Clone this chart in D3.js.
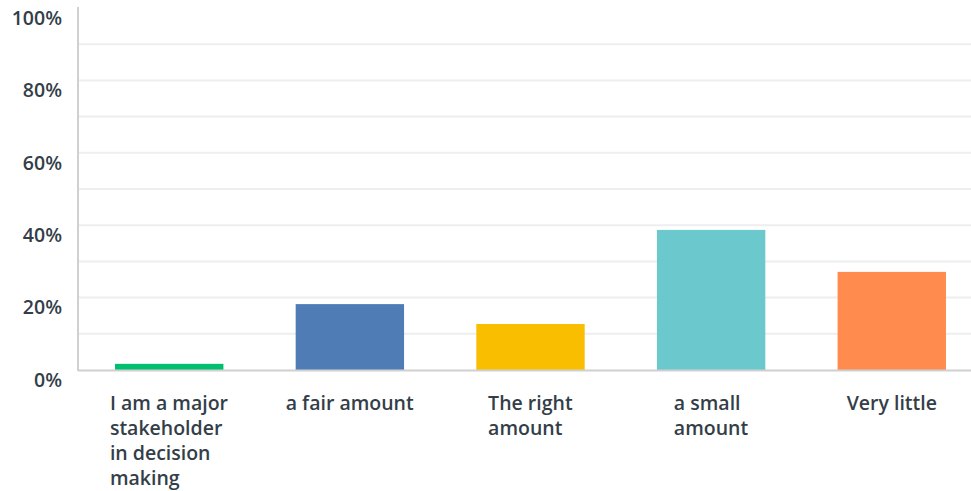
<!DOCTYPE html>
<html><head><meta charset="utf-8">
<script src="https://cdn.jsdelivr.net/npm/d3@7"></script>
<style>body{margin:0;background:#fff;} svg{display:block;}</style>
</head><body>
<svg id="chart" width="971" height="491"></svg>
<script>
const categories = ["I am a major stakeholder in decision making", "a fair amount", "The right amount", "a small amount", "Very little"];
const labelLines = [["I am a major","stakeholder","in decision","making"],["a fair amount"],["The right","amount"],["a small","amount"],["Very little"]];
const values = [1.7, 18.2, 12.7, 38.7, 27.1];
const colors = ["#00bf6f", "#507cb6", "#f9be00", "#6bc8cd", "#ff8b4f"];
const yTicks = [0, 20, 40, 60, 80, 100];
const gridTicks = [10, 20, 30, 40, 50, 60, 70, 80, 90];

(function () {
const svg = d3.select("#chart");
const mLeft = 78, mRight = 971, mTop = 8, mBottom = 370;
const font = "'Open Sans', sans-serif";
const textColor = "#333e48";

const x = d3.scaleBand().domain(categories).range([mLeft, 983]).paddingInner(0.4).paddingOuter(0.205);
const y = d3.scaleLinear().domain([0, 100]).range([mBottom, mTop]);

svg.append("g").selectAll("line").data(gridTicks).join("line")
  .attr("x1", mLeft).attr("x2", mRight)
  .attr("y1", d => y(d)).attr("y2", d => y(d))
  .attr("stroke", "#eeeeee").attr("stroke-width", 2);

svg.append("g").selectAll("rect").data(values).join("rect")
  .attr("x", (d, i) => x(categories[i]))
  .attr("width", x.bandwidth())
  .attr("y", d => y(d))
  .attr("height", d => y(0) - y(d))
  .attr("fill", (d, i) => colors[i]);

svg.append("line").attr("x1", mLeft).attr("x2", mLeft).attr("y1", 7).attr("y2", mBottom + 1)
  .attr("stroke", "#d0d0d0").attr("stroke-width", 2);
svg.append("line").attr("x1", mLeft).attr("x2", mRight).attr("y1", mBottom + 0.5).attr("y2", mBottom + 0.5)
  .attr("stroke", "#d0d0d0").attr("stroke-width", 2);

const yAxis = d3.axisLeft(y).tickValues(yTicks).tickFormat(d => d + "%").tickSize(0).tickPadding(0);
const ya = svg.append("g").attr("transform", "translate(62,10)").call(yAxis);
ya.select(".domain").remove();
ya.selectAll("text").attr("font-family", font).attr("font-weight", 600)
  .attr("font-size", 19.5).attr("fill", textColor);

const xl = svg.append("g");
categories.forEach((c, i) => {
  const g = xl.append("g");
  const t = g.append("text").attr("font-family", font).attr("font-weight", 600)
    .attr("font-size", 19.5).attr("fill", textColor);
  labelLines[i].forEach((ln, j) => {
    t.append("tspan").attr("x", 0).attr("y", 410 + j * 25).text(ln);
  });
  const w = t.node().getBBox().width;
  g.attr("transform", `translate(${x(c) + x.bandwidth() / 2 - w / 2},0)`);
});
})();
</script>
</body></html>
